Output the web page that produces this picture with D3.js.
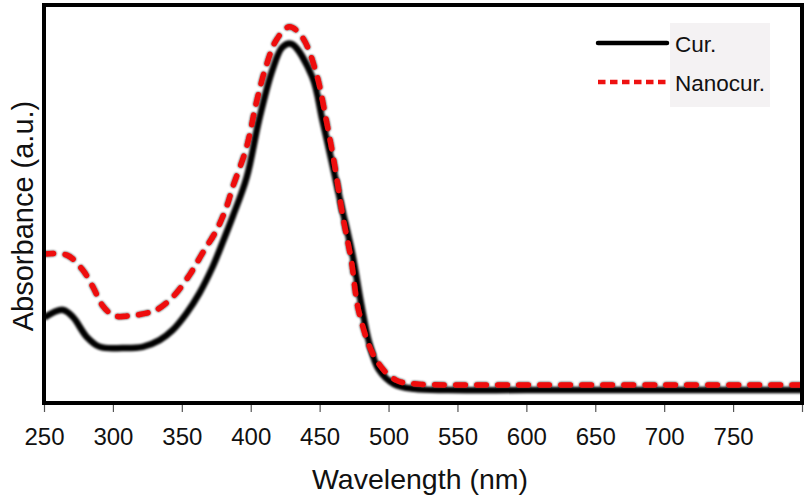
<!DOCTYPE html>
<html>
<head>
<meta charset="utf-8">
<script src="https://cdn.jsdelivr.net/npm/d3@7"></script>
<style>
  html, body { margin: 0; padding: 0; background: #fff; }
  svg { display: block; }
  text { font-family: "Liberation Sans", Arial, Helvetica, sans-serif; }
</style>
</head>
<body>
<svg id="chart" width="810" height="499"></svg>
<script>
// ---- data ----
const wavelengthsCur = [250, 263.7, 271, 281, 290.5, 307, 321.6, 333.9, 343.3, 353.5, 362.9, 372.3, 379.5, 386.8, 397, 406, 415.7, 423, 429.5, 444.6, 452, 459, 466, 473.6, 480, 486, 493, 504, 518.5, 543.8, 600, 700, 800];
const absorbanceCur = [0.212, 0.232, 0.214, 0.164, 0.139, 0.136, 0.139, 0.156, 0.181, 0.224, 0.275, 0.340, 0.401, 0.466, 0.565, 0.710, 0.836, 0.894, 0.902, 0.819, 0.710, 0.602, 0.491, 0.375, 0.249, 0.149, 0.081, 0.045, 0.033, 0.030, 0.030, 0.030, 0.030];

const wavelengthsNano = [250, 266.6, 278, 285.5, 292.7, 301, 312, 324.5, 331.8, 343.3, 355.6, 365, 375.2, 382.4, 386.8, 397, 404, 411, 418.6, 428, 437.4, 447.5, 454.8, 460.6, 466.4, 472.9, 478.7, 491, 505.4, 522, 551, 600, 700, 800];
const absorbanceNano = [0.373, 0.370, 0.333, 0.290, 0.242, 0.217, 0.217, 0.224, 0.232, 0.264, 0.320, 0.375, 0.433, 0.491, 0.540, 0.642, 0.753, 0.844, 0.912, 0.945, 0.919, 0.829, 0.710, 0.602, 0.476, 0.358, 0.224, 0.106, 0.055, 0.045, 0.043, 0.043, 0.043, 0.043];

const xTicks = [250, 300, 350, 400, 450, 500, 550, 600, 650, 700, 750, 800];
const xTickLabels = ["250", "300", "350", "400", "450", "500", "550", "600", "650", "700", "750", ""];
const seriesNames = ["Cur.", "Nanocur."];
const xTitle = "Wavelength (nm)";
const yTitle = "Absorbance (a.u.)";

// ---- layout ----
const plot = { left: 44, right: 802, top: 5, bottom: 403 };
const svg = d3.select("#chart");

const x = d3.scaleLinear().domain([250, 800]).range([plot.left, plot.right]);
const y = d3.scaleLinear().domain([0, 1]).range([402, 5]);

const defs = svg.append("defs");
const clip = defs.append("clipPath").attr("id", "clip");
clip.append("rect").attr("x", plot.left).attr("y", plot.top)
  .attr("width", plot.right - plot.left).attr("height", plot.bottom - plot.top);

const blur = defs.append("filter").attr("id", "soft")
  .attr("x", "-5%").attr("y", "-5%").attr("width", "110%").attr("height", "110%");
blur.append("feGaussianBlur").attr("stdDeviation", 0.9);

const halo = defs.append("filter").attr("id", "halo")
  .attr("x", "-5%").attr("y", "-5%").attr("width", "110%").attr("height", "110%");
halo.append("feDropShadow").attr("dx", 0).attr("dy", 0)
  .attr("stdDeviation", 1).attr("flood-color", "#000").attr("flood-opacity", 0.9);

const line = d3.line().x(d => x(d[0])).y(d => y(d[1])).curve(d3.curveCatmullRom.alpha(0.5));

const curData = wavelengthsCur.map((w, i) => [w, absorbanceCur[i]]);
const nanoData = wavelengthsNano.map((w, i) => [w, absorbanceNano[i]]);

const g = svg.append("g").attr("clip-path", "url(#clip)");
g.append("path").datum(curData)
  .attr("d", line)
  .attr("fill", "none").attr("stroke", "#000").attr("stroke-width", 6.5)
  .attr("stroke-linejoin", "round").attr("filter", "url(#soft)");

g.append("path").datum(nanoData)
  .attr("d", line)
  .attr("fill", "none").attr("stroke", "#ee1111").attr("stroke-width", 5.5)
  .attr("stroke-linecap", "round").attr("stroke-dasharray", "9.5,11.5")
  .attr("filter", "url(#halo)");

// ---- frame ----
svg.append("rect")
  .attr("x", plot.left).attr("y", plot.top)
  .attr("width", plot.right - plot.left).attr("height", plot.bottom - plot.top)
  .attr("fill", "none").attr("stroke", "#000").attr("stroke-width", 4);

// ---- x axis ----
const xAxis = d3.axisBottom(x).tickValues(xTicks).tickSize(7)
  .tickFormat((d, i) => xTickLabels[i]);
const ax = svg.append("g").attr("transform", "translate(0,405)").call(xAxis);
ax.select(".domain").remove();
ax.selectAll(".tick line").attr("stroke", "#555").attr("stroke-width", 1.2);
ax.selectAll(".tick text")
  .attr("y", 40).attr("dy", null)
  .attr("font-size", 24).attr("fill", "#111")
  .style("font-family", '"Liberation Sans", Arial, sans-serif');

// ---- axis titles ----
svg.append("text")
  .attr("x", 420).attr("y", 489)
  .attr("text-anchor", "middle").attr("font-size", 28.5).attr("fill", "#111")
  .text(xTitle);

svg.append("text")
  .attr("transform", "translate(33,216) rotate(-90)")
  .attr("text-anchor", "middle").attr("font-size", 29).attr("fill", "#111")
  .text(yTitle);

// ---- legend ----
const leg = svg.append("g");
leg.append("rect").attr("x", 670).attr("y", 23).attr("width", 100).attr("height", 84)
  .attr("fill", "#f4f2f3");
leg.append("line").attr("x1", 598).attr("x2", 667).attr("y1", 43).attr("y2", 43)
  .attr("stroke", "#000").attr("stroke-width", 4.5).attr("stroke-linecap", "round");
leg.append("line").attr("x1", 598).attr("x2", 667).attr("y1", 82).attr("y2", 82)
  .attr("stroke", "#ee1111").attr("stroke-width", 4.5)
  .attr("stroke-dasharray", "7.5,4.5");
leg.append("text").attr("x", 675).attr("y", 52).attr("font-size", 22.5).attr("fill", "#111")
  .text(seriesNames[0]);
leg.append("text").attr("x", 675).attr("y", 91).attr("font-size", 22.5).attr("fill", "#111")
  .text(seriesNames[1]);
</script>
</body>
</html>
